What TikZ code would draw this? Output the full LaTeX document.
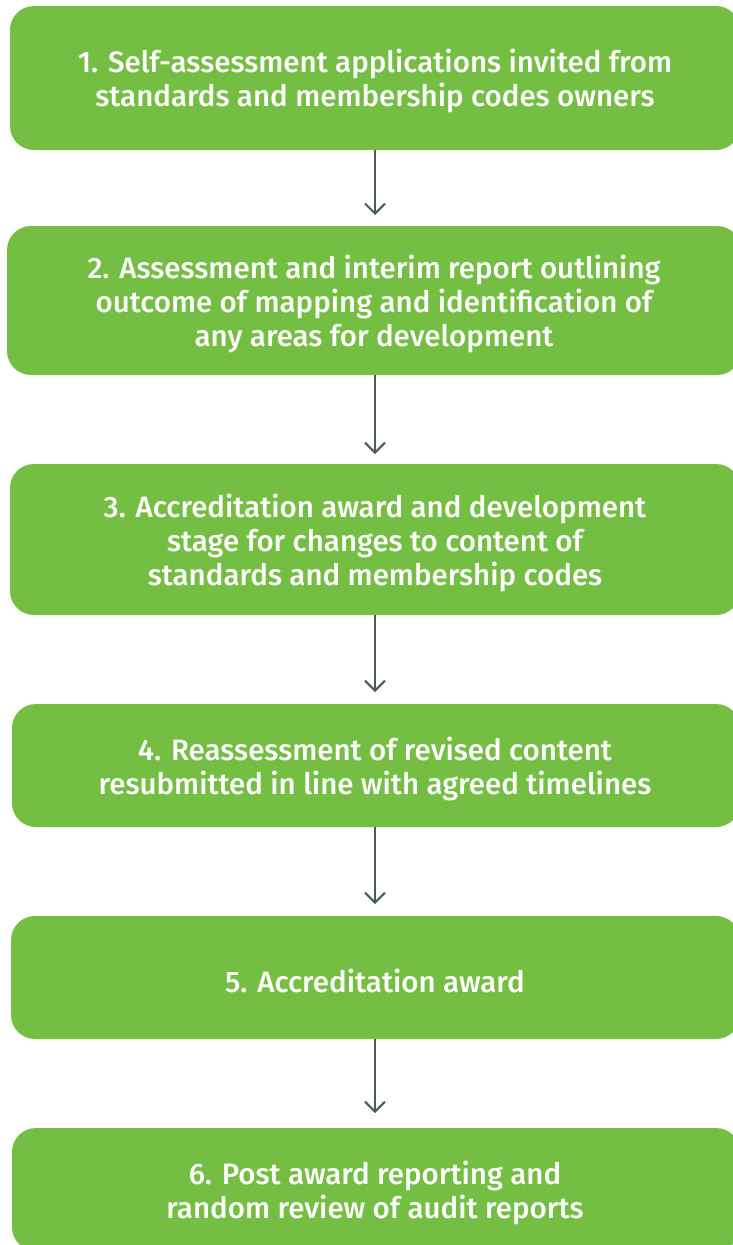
\documentclass[tikz,border=0pt]{standalone}
\usepackage{fontspec}
\setmainfont{Fira Sans}[UprightFont=* Medium]
\usetikzlibrary{arrows.meta}
\definecolor{boxgreen}{HTML}{74BE44}
\definecolor{arrowgray}{HTML}{4D5B57}
\begin{document}
\begin{tikzpicture}[x=1pt,y=-1pt,
  stepbox/.style={fill=boxgreen, rounded corners=24pt, inner sep=0pt},
  steptext/.style={text=white, align=center, font=\fontsize{29.5}{34}\selectfont, inner sep=0pt, yshift=-3pt},
  flow/.style={draw=arrowgray, line width=2pt, -{Straight Barb[length=10pt,width=20pt,line width=2pt]}}]
\useasboundingbox (0,0) rectangle (732,1245);
\path[fill=white] (0,0) rectangle (732,1245);
\node[stepbox, minimum width=730pt, minimum height=144pt] (b1) at (375,78) {};
\node[stepbox, minimum width=734pt, minimum height=149pt] (b2) at (374,300.5) {};
\node[stepbox, minimum width=730pt, minimum height=151pt] (b3) at (375,539.5) {};
\node[stepbox, minimum width=728pt, minimum height=123pt] (b4) at (376,765.5) {};
\node[stepbox, minimum width=729pt, minimum height=123pt] (b5) at (375.5,977.5) {};
\node[stepbox, minimum width=728pt, minimum height=123pt] (b6) at (376,1189.5) {};
\node[steptext] (t1) at (375,78)
  {1. Self-assessment applications invited from\\standards and membership codes owners};
\node[steptext] (t2) at (374,300.5)
  {2. Assessment and interim report outlining\\outcome of mapping and identification of\\any areas for development};
\node[steptext] (t3) at (375,539.5)
  {3. Accreditation award and development\\stage for changes to content of\\standards and membership codes};
\node[steptext] (t4) at (375,765.5)
  {4. Reassessment of revised content\\resubmitted in line with agreed timelines};
\node[steptext] (t5) at (375,977.5)
  {5. Accreditation award};
\node[steptext] (t6) at (375,1189.5)
  {6. Post award reporting and\\random review of audit reports};
\coordinate (e1) at (375,215);
\coordinate (e2) at (375,454);
\coordinate (e3) at (375,692);
\coordinate (e4) at (375,904);
\coordinate (e5) at (375,1113);
\draw[flow] (b1.south -| e1) -- (e1);
\draw[flow] (b2.south -| e2) -- (e2);
\draw[flow] (b3.south -| e3) -- (e3);
\draw[flow] (b4.south -| e4) -- (e4);
\draw[flow] (b5.south -| e5) -- (e5);
\end{tikzpicture}
\end{document}
